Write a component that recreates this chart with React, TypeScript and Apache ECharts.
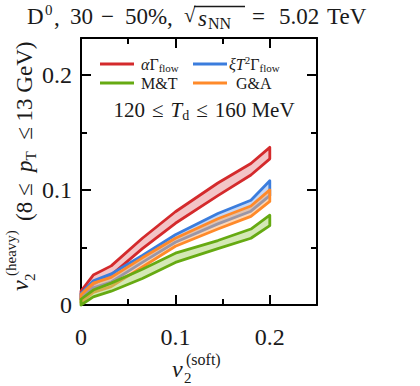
import React, { useEffect, useRef } from "react";
import * as echarts from "echarts";

// x values of the computed curves (v2 soft)
const xs = [0, 0.013, 0.032, 0.065, 0.1, 0.145, 0.18, 0.2];

// alpha Gamma_flow (red)
const redLo = [0.005, 0.018, 0.026, 0.049, 0.071, 0.095, 0.113, 0.127];
const redHi = [0.012, 0.026, 0.034, 0.058, 0.081, 0.106, 0.123, 0.137];
// xi T^2 Gamma_flow (blue)
const blueLo = [0.0055, 0.015, 0.02, 0.037, 0.0545, 0.0705, 0.0815, 0.095];
const blueHi = [0.01, 0.021, 0.027, 0.043, 0.061, 0.0795, 0.091, 0.108];
// G&A (orange)
const orangeLo = [0.002, 0.011, 0.016, 0.033, 0.051, 0.066, 0.077, 0.09];
const orangeHi = [0.009, 0.019, 0.024, 0.041, 0.058, 0.075, 0.086, 0.1];
// M&T (green)
const greenLo = [0.0, 0.007, 0.012, 0.023, 0.037, 0.049, 0.058, 0.069];
const greenHi = [0.005, 0.013, 0.019, 0.031, 0.045, 0.056, 0.066, 0.078];

const xTickLabels = ["0", "0.1", "0.2"];
const yTickLabels = ["0", "0.1", "0.2"];

const FONT = "Liberation Serif";
const INK = "#1a1a1a";

function band(name: string, lo: number[], hi: number[], stroke: string, fill: string, z: number) {
  return {
    type: "custom",
    name,
    coordinateSystem: "cartesian2d",
    xAxisIndex: 0,
    yAxisIndex: 0,
    z,
    data: [[xs[0], lo[0]]],
    renderItem: (_params: any, api: any) => {
      const pts: number[][] = [];
      for (let i = 0; i < xs.length; i++) pts.push(api.coord([xs[i], hi[i]]));
      for (let i = xs.length - 1; i >= 0; i--) pts.push(api.coord([xs[i], lo[i]]));
      return {
        type: "polygon",
        shape: { points: pts },
        style: { fill, stroke, lineWidth: 2.8, lineJoin: "round" },
      };
    },
  };
}

const fmt = (labels: string[]) => (v: number) => {
  const s = v === 0 ? "0" : v.toFixed(1);
  return Math.abs(v * 10 - Math.round(v * 10)) < 1e-6 && labels.includes(s) ? s : "";
};

const txt = (size: number, extra: any = {}) => ({ fontSize: size, fontFamily: FONT, ...extra });

// simple positioned text piece
const t = (text: string, x: number, y: number, size: number, italic = false, align = "left") => ({
  type: "text",
  x,
  y,
  style: { text, fontSize: size, fontFamily: FONT, fontStyle: italic ? "italic" : "normal", fill: INK, align, verticalAlign: "middle" },
});

export default function App() {
  const ref = useRef<HTMLDivElement>(null);
  useEffect(() => {
    if (!ref.current) return;
    const chart = echarts.init(ref.current, null, { renderer: "svg" });
    const axisCommon = {
      axisLine: { show: true, onZero: false, lineStyle: { color: "#000", width: 2 } },
      axisTick: { show: true, inside: true, length: 10, lineStyle: { color: "#000", width: 2 } },
      minorTick: { show: true, splitNumber: 2, length: 6, lineStyle: { color: "#000", width: 2 } },
      splitLine: { show: false },
    };
    chart.setOption({
      animation: false,
      grid: { left: 81, right: 103, top: 38, bottom: 81 },
      xAxis: [
        {
          type: "value", min: 0, max: 0.25, interval: 0.1, position: "bottom",
          ...axisCommon,
          axisLabel: { formatter: fmt(xTickLabels), fontFamily: FONT, fontSize: 24, color: INK, margin: 20, showMaxLabel: false },
        },
        {
          type: "value", min: 0, max: 0.25, interval: 0.1, position: "top",
          ...axisCommon, axisLabel: { show: false },
        },
      ],
      yAxis: [
        {
          type: "value", min: 0, max: 0.232, interval: 0.1, position: "left",
          ...axisCommon,
          axisLabel: { formatter: fmt(yTickLabels), fontFamily: FONT, fontSize: 24, color: INK, margin: 9, showMaxLabel: false },
        },
        {
          type: "value", min: 0, max: 0.232, interval: 0.1, position: "right",
          ...axisCommon, axisLabel: { show: false },
        },
      ],
      series: [
        band("αΓflow", redLo, redHi, "#d42a2c", "rgba(232,140,144,0.5)", 2),
        band("ξT²Γflow", blueLo, blueHi, "#3b7ddd", "rgba(140,176,236,0.5)", 3),
        band("G&A", orangeLo, orangeHi, "#ff8a2a", "rgba(252,176,110,0.5)", 4),
        band("M&T", greenLo, greenHi, "#66aa12", "rgba(170,210,110,0.5)", 5),
      ],
      graphic: [
        // title pieces
        t("D", 27, 16, 23),
        t("0", 45, 10, 15),
        t(",", 54, 17, 23),
        t("30", 70, 16, 23),
        t("−", 101, 16, 23),
        t("50%", 125, 16, 23),
        t(",", 167, 17, 23),
        t("√", 184, 15, 21),
        t("s", 198, 18, 23, true),
        t("NN", 208, 23, 16),
        { type: "line", shape: { x1: 194, y1: 6.5, x2: 245, y2: 6.5 }, style: { stroke: INK, lineWidth: 1.3 } },
        t("=", 252, 16, 23),
        t("5.02", 279, 16, 23),
        t("TeV", 327, 16, 23),
        // legend
        { type: "line", shape: { x1: 100, y1: 64, x2: 134, y2: 64 }, style: { stroke: "#d42a2c", lineWidth: 3 } },
        { type: "line", shape: { x1: 193, y1: 64, x2: 227, y2: 64 }, style: { stroke: "#3b7ddd", lineWidth: 3 } },
        { type: "line", shape: { x1: 100, y1: 83, x2: 134, y2: 83 }, style: { stroke: "#66aa12", lineWidth: 3 } },
        { type: "line", shape: { x1: 193, y1: 83, x2: 227, y2: 83 }, style: { stroke: "#ff8a2a", lineWidth: 3 } },
        {
          type: "text", x: 141, y: 64,
          style: {
            text: "{it|α}Γ{sub|flow}", fontSize: 16, fontFamily: FONT, fill: INK, verticalAlign: "middle",
            rich: { it: txt(16, { fontStyle: "italic" }), sub: txt(11, { verticalAlign: "bottom", lineHeight: 19 }) },
          },
        },
        {
          type: "text", x: 229, y: 64,
          style: {
            text: "{it|ξT}{sup|2}Γ{sub|flow}", fontSize: 16, fontFamily: FONT, fill: INK, verticalAlign: "middle",
            rich: {
              it: txt(16, { fontStyle: "italic" }),
              sup: txt(11, { verticalAlign: "top", lineHeight: 19 }),
              sub: txt(11, { verticalAlign: "bottom", lineHeight: 19 }),
            },
          },
        },
        t("M&T", 141, 83, 16),
        t("G&A", 236, 83, 16),
        {
          type: "text", x: 204, y: 110,
          style: {
            text: "120\u2004≤\u2004{it|T}{sub|d}\u2004≤\u2004160 MeV", fontSize: 21, fontFamily: FONT, fill: INK, align: "center", verticalAlign: "middle",
            rich: { it: txt(21, { fontStyle: "italic" }), sub: txt(14, { verticalAlign: "bottom", lineHeight: 25 }) },
          },
        },
        // y axis title (rotated, reads bottom to top)
        {
          type: "group", x: 0, y: 291, rotation: Math.PI / 2,
          children: [
            { type: "text", x: 0, y: 20, style: { text: "v", fontSize: 24, fontFamily: FONT, fontStyle: "italic", fill: INK, verticalAlign: "middle" } },
            { type: "text", x: 10, y: 30, style: { text: "2", fontSize: 15, fontFamily: FONT, fill: INK, verticalAlign: "middle" } },
            { type: "text", x: 15, y: 11, style: { text: "(heavy)", fontSize: 15, fontFamily: FONT, fill: INK, verticalAlign: "middle" } },
            {
              type: "text", x: 70, y: 24,
              style: {
                text: "(8 ≤\u2002{it|p}{sub|T}\u2002≤ 13 GeV)", fontSize: 23, fontFamily: FONT, fill: INK, verticalAlign: "middle",
                rich: { it: txt(23, { fontStyle: "italic" }), sub: txt(15, { verticalAlign: "bottom", lineHeight: 28 }) },
              },
            },
          ],
        },
        // x axis title
        t("v", 172, 369, 24, true),
        t("2", 184, 378, 15),
        t("(soft)", 186, 359, 16),
      ],
    });
    return () => chart.dispose();
  }, []);
  return <div ref={ref} style={{ width: 420, height: 386, position: "absolute", left: 0, top: 0 }} />;
}
